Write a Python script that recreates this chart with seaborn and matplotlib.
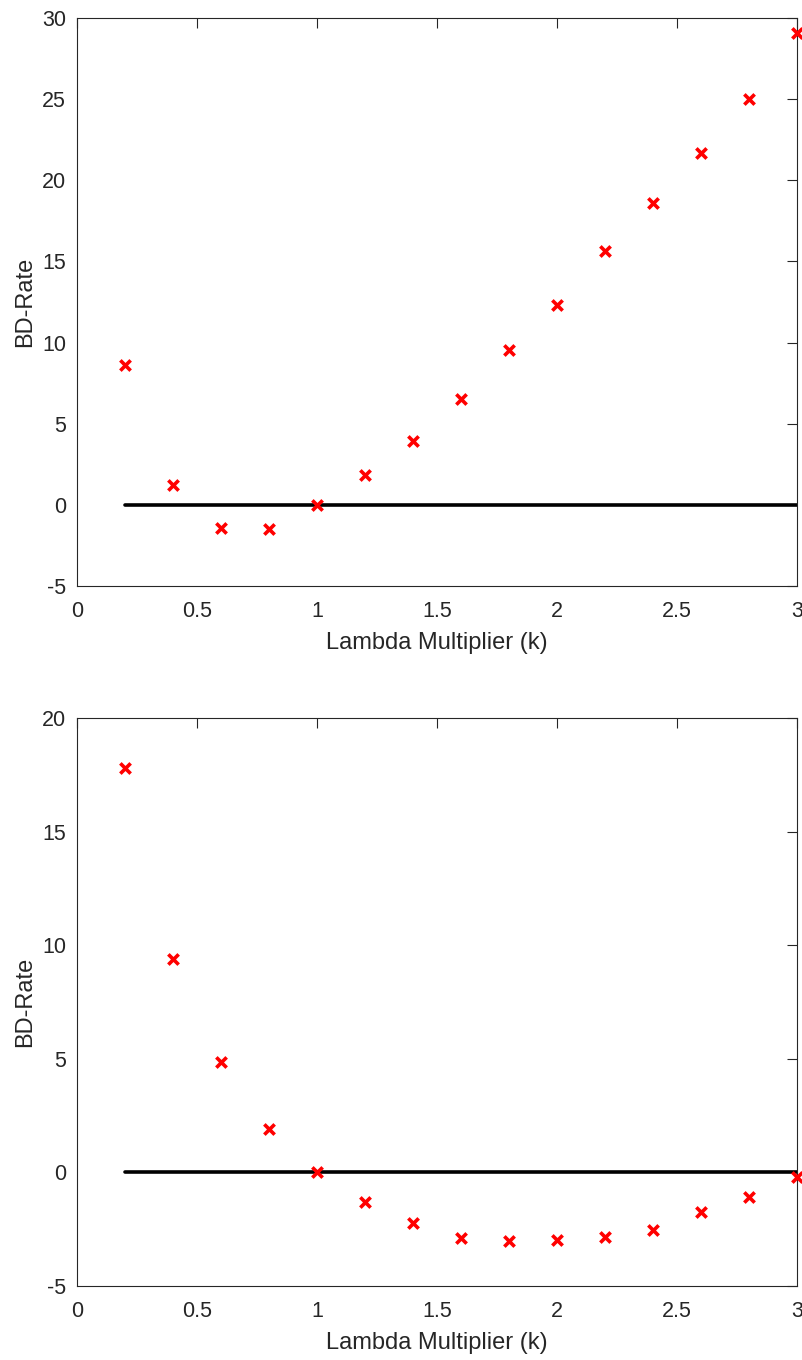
import numpy as np
import matplotlib
matplotlib.use('Agg')
import matplotlib.pyplot as plt
import seaborn as sns

# data
k = [0.2, 0.4, 0.6, 0.8, 1.0, 1.2, 1.4, 1.6, 1.8, 2.0, 2.2, 2.4, 2.6, 2.8, 3.0]
bd_top = [8.6, 1.23, -1.42, -1.48, 0.0, 1.85, 3.94, 6.53, 9.55, 12.32, 15.65, 18.6, 21.7, 25.0, 29.08]
bd_bottom = [17.8, 9.39, 4.86, 1.9, 0.0, -1.30, -2.23, -2.89, -3.02, -2.98, -2.84, -2.53, -1.75, -1.08, -0.2]
ref_x = [0.2, 3.0]
ref_y = [0, 0]

sns.set_style('white')
plt.rcParams['font.family'] = ['Liberation Sans', 'DejaVu Sans']

fig = plt.figure(figsize=(8.03, 13.6), dpi=100)
ax1 = fig.add_axes([0.0959, 0.5691, 0.8966, 0.4176])
ax2 = fig.add_axes([0.0959, 0.0544, 0.8966, 0.4176])

for ax, vals, ylim, yticks in [
    (ax1, bd_top, (-5, 30), np.arange(-5, 31, 5)),
    (ax2, bd_bottom, (-5, 20), np.arange(-5, 21, 5)),
]:
    sns.lineplot(x=ref_x, y=ref_y, color='black', linewidth=2.6, ax=ax)
    sns.scatterplot(x=k, y=vals, marker='x', color='red', s=55, linewidth=2.6,
                    ax=ax, clip_on=False, zorder=5)
    ax.set_xlim(0, 3)
    ax.set_ylim(*ylim)
    ax.set_xticks([0, 0.5, 1, 1.5, 2, 2.5, 3])
    ax.set_xticklabels(['0', '0.5', '1', '1.5', '2', '2.5', '3'])
    ax.set_yticks(yticks)
    ax.set_yticklabels([str(v) for v in yticks])
    ax.tick_params(direction='in', length=7, width=0.8, top=True, right=True,
                   labelsize=15.5, colors='#262626', pad=8)
    ax.tick_params(axis='x', pad=11)
    for s in ax.spines.values():
        s.set_visible(True)
        s.set_color('#262626')
        s.set_linewidth(0.8)
    ax.set_xlabel('Lambda Multiplier (k)', fontsize=17, color='#262626', labelpad=7)
    ax.set_ylabel('BD-Rate', fontsize=17, color='#262626', labelpad=4)

fig.savefig('out.png', dpi=100)
